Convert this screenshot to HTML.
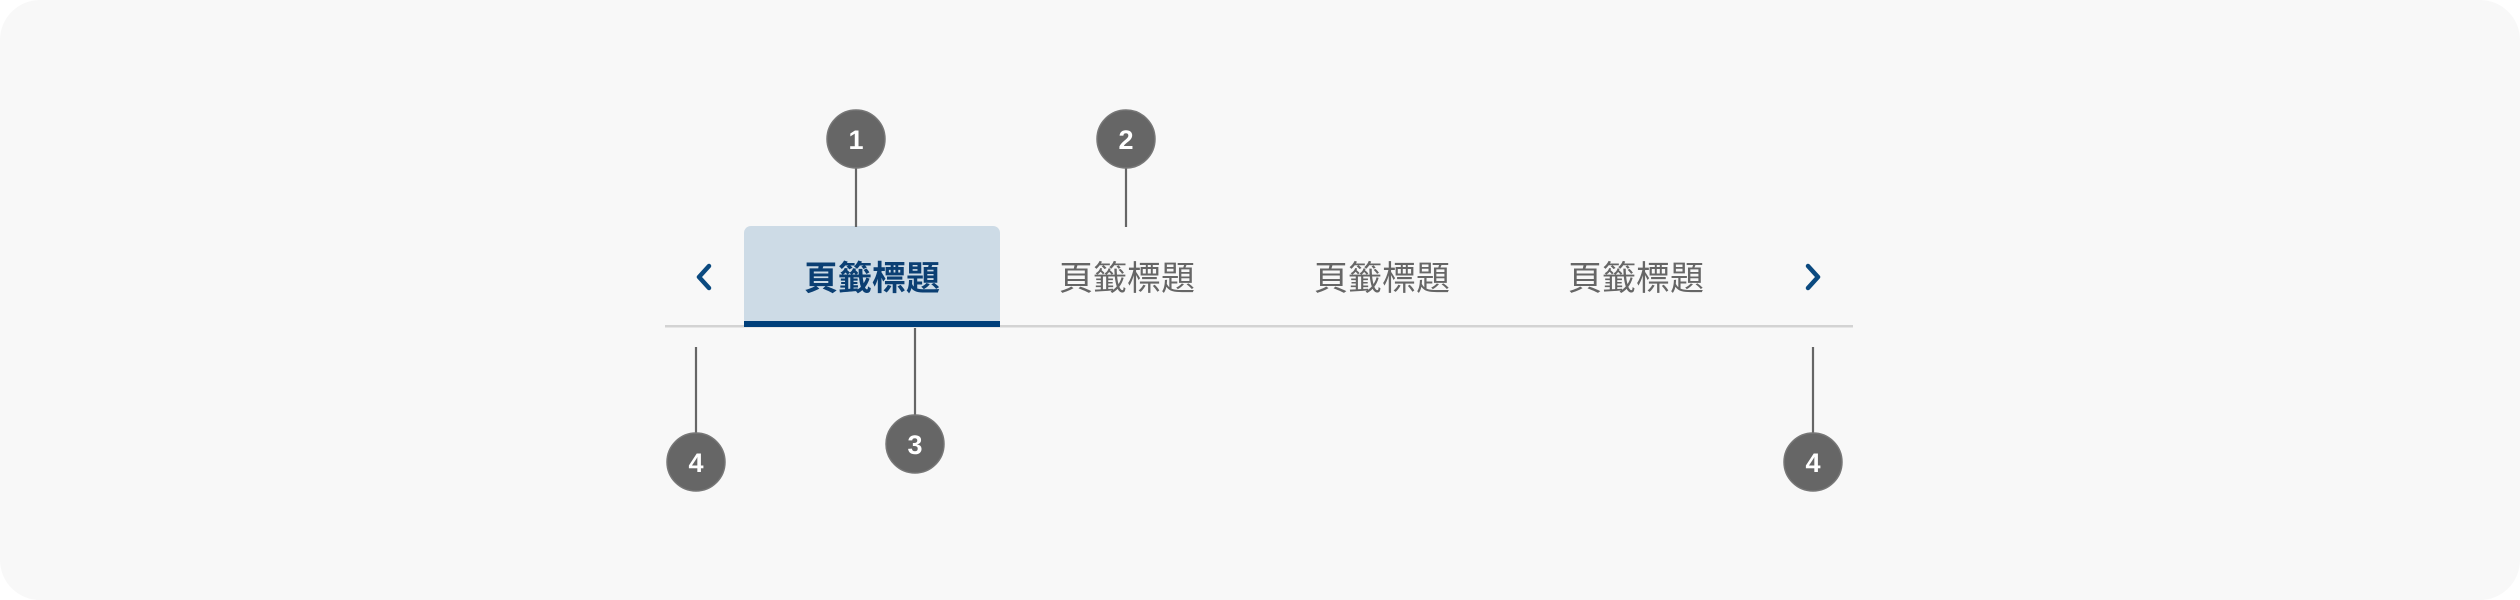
<!DOCTYPE html>
<html><head><meta charset="utf-8"><style>
html,body{margin:0;padding:0;background:#fff;}
.bg{position:absolute;left:0;top:0;width:2520px;height:600px;background:#f8f8f8;border-radius:40px;overflow:hidden;font-family:"Liberation Sans","Noto Sans CJK TC",sans-serif;}
.t{position:absolute;top:253px;font-size:34px;line-height:52px;color:#666;transform:translateX(-50%);white-space:nowrap;}
</style></head><body>
<div class="bg">
<svg width="2520" height="600" style="position:absolute;left:0;top:0">
  <rect x="744" y="226" width="256" height="100" rx="7" fill="#cddbe6"/>
  <rect x="665" y="325" width="1188" height="2.5" fill="#d3d3d3"/>
  <rect x="744" y="321" width="256" height="6" fill="#003f7a"/>
  <polyline points="709,266 699,277 709,288" fill="none" stroke="#0b4a80" stroke-width="4.5" stroke-linecap="round" stroke-linejoin="round"/>
  <polyline points="1808,266 1818,277 1808,288" fill="none" stroke="#0b4a80" stroke-width="4.5" stroke-linecap="round" stroke-linejoin="round"/>
  <g stroke="#666" stroke-width="2.2">
    <line x1="856" y1="160" x2="856" y2="227"/>
    <line x1="1126" y1="160" x2="1126" y2="227"/>
    <line x1="915" y1="328" x2="915" y2="420"/>
    <line x1="696" y1="347" x2="696" y2="436"/>
    <line x1="1813" y1="347" x2="1813" y2="436"/>
  </g>
  <g fill="#666" stroke="#777" stroke-width="1.5">
    <circle cx="856" cy="139" r="29"/>
    <circle cx="1126" cy="139" r="29"/>
    <circle cx="915" cy="444" r="29"/>
    <circle cx="696" cy="462" r="29"/>
    <circle cx="1813" cy="462" r="29"/>
  </g>
  <g fill="#fff" font-family="Liberation Sans, sans-serif" font-weight="bold" font-size="27" text-anchor="middle">
    <text x="856" y="149">1</text>
    <text x="1126" y="149">2</text>
    <text x="915" y="454">3</text>
    <text x="696" y="472">4</text>
    <text x="1813" y="472">4</text>
  </g>
</svg>
<div class="t" style="left:872px;color:#0b3f73;font-weight:bold;">頁籤標題</div>
<div class="t" style="left:1127px;">頁籤標題</div>
<div class="t" style="left:1382px;">頁籤標題</div>
<div class="t" style="left:1636px;">頁籤標題</div>
</div>
</body></html>
